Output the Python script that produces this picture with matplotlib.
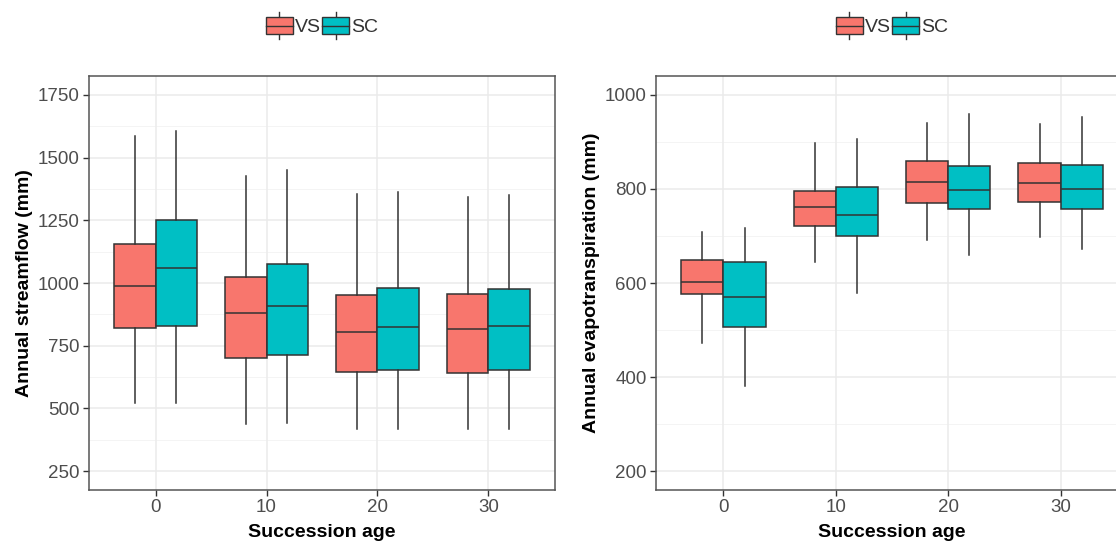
import matplotlib
matplotlib.use("Agg")
import matplotlib.pyplot as plt
from matplotlib.patches import Rectangle
from matplotlib.lines import Line2D
from matplotlib.legend_handler import HandlerBase

plt.rcParams['font.family'] = ['Liberation Sans', 'DejaVu Sans']

ages = ["0", "10", "20", "30"]
groups = ["VS", "SC"]
colors = {"VS": "#F8766D", "SC": "#00BFC4"}

# streamflow: [whislo, q1, med, q3, whishi]
flow_vs = [[521, 820, 990, 1155, 1585],
           [438, 702, 880, 1022, 1427],
           [420, 644, 805, 953, 1354],
           [418, 643, 815, 956, 1341]]
flow_sc = [[523, 827, 1060, 1250, 1606],
           [442, 712, 909, 1074, 1451],
           [420, 654, 824, 981, 1363],
           [418, 654, 830, 977, 1349]]

# evapotranspiration: [whislo, q1, med, q3, whishi]
et_vs = [[473, 576, 603, 648, 709],
         [644, 721, 761, 796, 897],
         [692, 770, 814, 859, 940],
         [697, 772, 812, 855, 938]]
et_sc = [[382, 507, 571, 644, 717],
         [578, 699, 744, 805, 906],
         [659, 758, 797, 848, 960],
         [673, 758, 799, 850, 952]]

flow_ticks = [250, 500, 750, 1000, 1250, 1500, 1750]
et_ticks = [200, 400, 600, 800, 1000]

EDGE = "#333333"


class BoxKeyHandler(HandlerBase):
    def __init__(self, color):
        super().__init__()
        self.color = color

    def create_artists(self, legend, orig_handle, xdescent, ydescent,
                       width, height, fontsize, trans):
        x0, y0 = -xdescent, -ydescent
        ext = height * 0.3
        cx = x0 + width / 2
        wl = Line2D([cx, cx], [y0 - ext, y0 + height + ext], color=EDGE,
                    lw=1.0, transform=trans)
        r = Rectangle((x0, y0), width, height, facecolor=self.color,
                      edgecolor=EDGE, lw=1.0, transform=trans)
        med = Line2D([x0, x0 + width], [y0 + height / 2] * 2, color=EDGE,
                     lw=1.0, transform=trans)
        return [wl, r, med]


def make_stats(arr):
    out = []
    for lo, q1, med, q3, hi in arr:
        out.append(dict(whislo=lo, q1=q1, med=med, q3=q3, whishi=hi, fliers=[]))
    return out


def panel(ax, vs, sc, ticks, ylabel):
    lim_lo, lim_hi = ticks[0], ticks[-1]
    pad = (lim_hi - lim_lo) * 0.05
    ax.set_ylim(lim_lo - pad, lim_hi + pad)
    ax.set_xlim(-0.6, 3.6)
    step = ticks[1] - ticks[0]
    minor = [t + step / 2 for t in ticks[:-1]]
    for m in minor:
        ax.axhline(m, color="#f2f2f2", lw=0.6, zorder=0)
    for t in ticks:
        ax.axhline(t, color="#ebebeb", lw=1.1, zorder=0)
    for i in range(len(ages)):
        ax.axvline(i, color="#ebebeb", lw=1.1, zorder=0)
    w = 0.375
    for data, off, g in [(vs, -w / 2, "VS"), (sc, w / 2, "SC")]:
        pos = [i + off for i in range(len(ages))]
        ax.bxp(make_stats(data), positions=pos, widths=w, showcaps=False,
               showfliers=False, patch_artist=True,
               boxprops=dict(facecolor=colors[g], edgecolor=EDGE, lw=1.1),
               medianprops=dict(color=EDGE, lw=1.1),
               whiskerprops=dict(color=EDGE, lw=1.1), zorder=3)
    ax.set_xticks(range(len(ages)))
    ax.set_xticklabels(ages)
    ax.set_yticks(ticks)
    ax.set_yticklabels([str(t) for t in ticks])
    ax.tick_params(colors="#333333", labelcolor="#4d4d4d", labelsize=13.5,
                   length=4, width=1, pad=2.5)
    for s in ax.spines.values():
        s.set_color("#555555")
        s.set_linewidth(1.1)
    ax.set_xlabel("Succession age", fontsize=14, fontweight="bold", labelpad=6)
    ax.set_ylabel(ylabel, fontsize=14, fontweight="bold", labelpad=4)
    h1 = Rectangle((0, 0), 1, 1)
    h2 = Rectangle((0, 0), 1, 1)
    leg = ax.legend([h1, h2], groups, loc="lower center",
                    bbox_to_anchor=(0.5, 1.077), ncol=2, frameon=False,
                    fontsize=14, handlelength=1.4, handleheight=0.95,
                    handletextpad=0.1, columnspacing=0.05, borderaxespad=0,
                    handler_map={h1: BoxKeyHandler(colors["VS"]),
                                 h2: BoxKeyHandler(colors["SC"])})
    for t in leg.get_texts():
        t.set_color("#333333")


fig = plt.figure(figsize=(11.16, 5.44), dpi=100)
ax1 = fig.add_axes([89 / 1116, 1 - 490 / 544, 466 / 1116, 414 / 544])
ax2 = fig.add_axes([656 / 1116, 1 - 490 / 544, 472 / 1116, 414 / 544])
panel(ax1, flow_vs, flow_sc, flow_ticks, "Annual streamflow (mm)")
panel(ax2, et_vs, et_sc, et_ticks, "Annual evapotranspiration (mm)")
fig.savefig("out.png", dpi=100)
